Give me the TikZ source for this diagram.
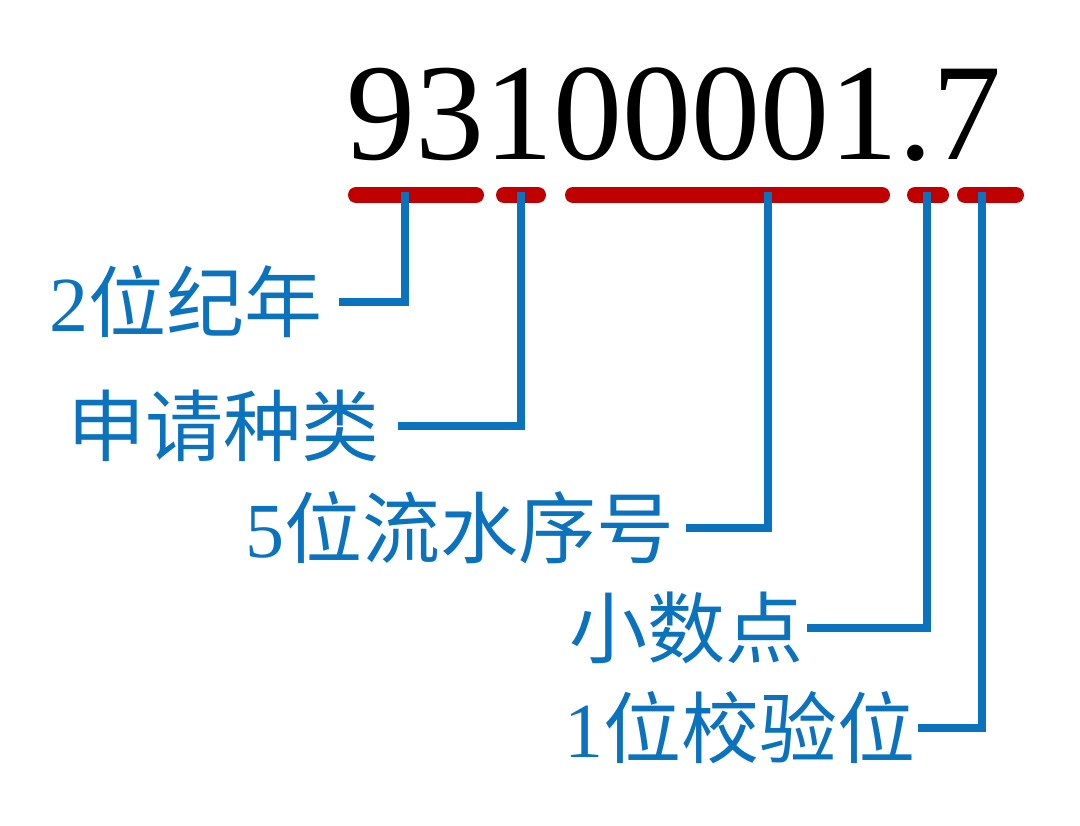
\documentclass[tikz,border=0pt]{standalone}
\usepackage{fontspec}
\setmainfont{Liberation Serif}
\newfontfamily\cjk{Noto Sans CJK SC}
\usepackage{xcolor}
\usetikzlibrary{positioning}
\definecolor{barred}{HTML}{C00000}
\definecolor{leadblue}{HTML}{0B72BD}

\begin{document}
\begin{tikzpicture}[x=1pt,y=-1pt,
        bar/.style={draw=barred,line width=16pt,line cap=round},
        lead/.style={draw=leadblue,line width=8pt},
        lab/.style={text=leadblue,inner ysep=0pt,anchor=east,font=\fontsize{78}{78}\selectfont}]
        \useasboundingbox (0,0) rectangle (1080,826);

        \node[anchor=base west,inner sep=0pt,font=\fontsize{138}{138}\selectfont] (number) at (346,160) {93100001.7};

        \draw[bar] (356,195) -- (476,195);
        \draw[bar] (504,195) -- (538,195);
        \draw[bar] (573,195) -- (882,195);
        \draw[bar] (915,195) -- (941,195);
        \draw[bar] (965,195) -- (1016,195);

        \coordinate (year_tap) at (405,192);
        \coordinate (kind_tap) at (521,192);
        \coordinate (serial_tap) at (768,192);
        \coordinate (dot_tap) at (927,192);
        \coordinate (check_tap) at (982,192);

        \node[lab,inner xsep=16pt] (year) at (339,302) {2\cjk 位纪年};
        \draw[lead] (year_tap) |- (year.east);

        \node[lab,inner xsep=18pt] (kind) at (398,426) {\cjk 申请种类};
        \draw[lead] (kind_tap) |- (kind.east);

        \node[lab,inner xsep=11pt] (serial) at (686,528) {5\cjk 位流水序号};
        \draw[lead] (serial_tap) |- (serial.east);

        \node[lab,inner xsep=3pt] (dot) at (807,628) {\cjk 小数点};
        \draw[lead] (dot_tap) |- (dot.east);

        \node[lab,inner xsep=2pt] (check) at (918,728) {1\cjk 位校验位};
        \draw[lead] (check_tap) |- (check.east);
    \end{tikzpicture}
\end{document}
